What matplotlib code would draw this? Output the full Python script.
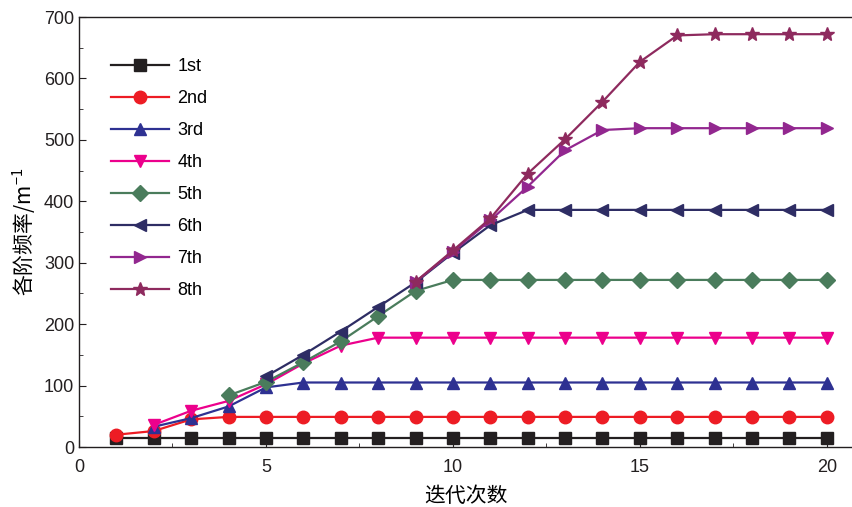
import matplotlib.pyplot as plt
from matplotlib.ticker import MultipleLocator

plt.rcParams['font.family'] = ['Liberation Sans', 'Noto Sans CJK SC', 'DejaVu Sans']

# iteration numbers for each mode
x_1st = list(range(1, 21))
x_2nd = list(range(1, 21))
x_3rd = list(range(2, 21))
x_4th = list(range(2, 21))
x_5th = list(range(4, 21))
x_6th = list(range(5, 21))
x_7th = list(range(9, 21))
x_8th = list(range(9, 21))

# frequencies (m^-1)
y_1st = [14] * 20
y_2nd = [20, 26, 45, 49] + [49] * 16
y_3rd = [33, 47, 66, 97, 105] + [105] * 14
y_4th = [36, 59, 75, 102, 136, 165, 178] + [178] * 12
y_5th = [84, 106, 138, 172, 213, 254, 272] + [272] * 10
y_6th = [115, 150, 188, 228, 268, 316, 361, 386] + [386] * 8
y_7th = [269, 318, 369, 424, 483, 516, 519] + [519] * 5
y_8th = [269, 320, 372, 445, 501, 562, 627, 670] + [672] * 4

labels = ['1st', '2nd', '3rd', '4th', '5th', '6th', '7th', '8th']
colors = ['#231f20', '#ed1c24', '#2e3192', '#ec008c', '#4a7c5c', '#2e2d64', '#92278f', '#8e2a5e']
markers = ['s', 'o', '^', 'v', 'D', '<', '>', '*']
sizes = [8, 9, 9, 9, 8, 9, 9, 10]

xs = [x_1st, x_2nd, x_3rd, x_4th, x_5th, x_6th, x_7th, x_8th]
ys = [y_1st, y_2nd, y_3rd, y_4th, y_5th, y_6th, y_7th, y_8th]

fig = plt.figure(figsize=(8.53, 5.07), dpi=100)
ax = fig.add_axes([79 / 853, 1 - 447 / 507, 1 - 79 / 853, (447 - 17) / 507])

for x, y, lab, c, m, s in zip(xs, ys, labels, colors, markers, sizes):
    ax.plot(x, y, color=c, marker=m, markersize=s, linewidth=1.6, label=lab,
            clip_on=False)

ax.set_xlim(0, 20.7)
ax.set_ylim(0, 700)
ax.xaxis.set_major_locator(MultipleLocator(5))
ax.xaxis.set_minor_locator(MultipleLocator(2.5))
ax.yaxis.set_major_locator(MultipleLocator(100))
ax.yaxis.set_minor_locator(MultipleLocator(50))
ax.tick_params(which='both', direction='in', labelsize=13, colors='#231f20')
ax.tick_params(which='major', length=5)
ax.tick_params(which='minor', length=3)
ax.tick_params(axis='x', pad=9)

ax.spines['right'].set_visible(False)
for sp in ['left', 'bottom', 'top']:
    ax.spines[sp].set_linewidth(1.0)
    ax.spines[sp].set_color('#231f20')

ax.set_xlabel('迭代次数', fontsize=15, family=['Noto Sans CJK SC', 'DejaVu Sans'], labelpad=6)
ax.set_ylabel('各阶频率/m$^{\\mathregular{-1}}$', fontsize=15,
              family=['Noto Sans CJK SC', 'DejaVu Sans'], labelpad=4)

ax.legend(loc='upper left', bbox_to_anchor=(0.02, 0.942), frameon=False, fontsize=13,
          handlelength=3.2, labelspacing=0.83, handletextpad=0.5)

fig.savefig('out.png', dpi=100)
